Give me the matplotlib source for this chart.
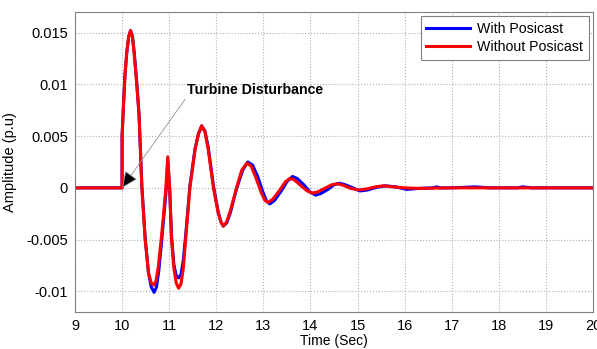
import matplotlib
matplotlib.use("Agg")
import matplotlib.pyplot as plt

plt.rcParams['font.family'] = ['Liberation Sans', 'DejaVu Sans']

# Without Posicast (red), values in p.u
t_without = [9, 10.0, 10.0, 10.03, 10.06, 10.10, 10.14, 10.18, 10.22, 10.26, 10.31, 10.36,
             10.42, 10.49, 10.56, 10.62, 10.67, 10.72, 10.77, 10.83, 10.88, 10.93, 10.97,
             11.01, 11.05, 11.10, 11.15, 11.20, 11.25, 11.30, 11.35, 11.44, 11.55, 11.62,
             11.69, 11.76, 11.83, 11.94, 12.04, 12.10, 12.15, 12.22, 12.30, 12.43, 12.54,
             12.65, 12.74, 12.84, 12.95, 13.03, 13.10, 13.20, 13.35, 13.47, 13.56, 13.65,
             13.80, 13.93, 14.04, 14.15, 14.30, 14.45, 14.57, 14.70, 14.85, 15.02, 15.20,
             15.38, 15.55, 15.75, 16.0, 16.3, 17.0, 20]
v_without = [0, 0, 5.0, 8.0, 10.8, 13.1, 14.6, 15.2, 14.6, 12.8, 10.1, 7.0,
             0, -5.0, -8.2, -9.2, -9.4, -9.0, -7.6, -5.0, -2.6, 0, 3.0,
             0, -5.0, -7.8, -9.2, -9.7, -9.3, -7.8, -5.0, 0, 3.7, 5.2,
             6.0, 5.4, 3.7, 0, -2.4, -3.3, -3.7, -3.3, -2.2, 0, 1.7,
             2.4, 2.1, 1.0, -0.4, -1.2, -1.4, -1.1, -0.2, 0.6, 0.9, 0.8,
             0.2, -0.3, -0.5, -0.4, -0.05, 0.3, 0.4, 0.25, -0.05, -0.2, -0.1,
             0.1, 0.2, 0.1, 0, -0.05, 0, 0]

# With Posicast (blue)
t_with = [9, 10.0, 10.0, 10.03, 10.06, 10.10, 10.14, 10.18, 10.22, 10.26, 10.31, 10.36,
          10.42, 10.49, 10.56, 10.62, 10.68, 10.73, 10.78, 10.84, 10.89, 10.94, 10.97,
          11.01, 11.05, 11.10, 11.15, 11.20, 11.25, 11.30, 11.35, 11.44, 11.55, 11.62,
          11.69, 11.76, 11.83, 11.94, 12.04, 12.10, 12.15, 12.22, 12.30,
          12.43, 12.56, 12.67, 12.77, 12.88, 12.99, 13.07, 13.14, 13.24, 13.38, 13.50,
          13.62, 13.72, 13.86, 13.99, 14.11, 14.22, 14.37, 14.50, 14.61, 14.74, 14.90,
          15.05, 15.22, 15.40, 15.60, 15.8, 16.05, 16.3, 16.6, 16.68, 16.76, 17.0,
          17.4, 17.5, 17.65, 17.8, 18.4, 18.5, 18.6, 18.7, 20]
v_with = [0, 0, 5.0, 8.0, 10.8, 13.1, 14.6, 15.2, 14.7, 13.0, 10.3, 7.2,
          0.2, -4.8, -8.2, -9.6, -10.1, -9.6, -8.0, -5.2, -2.6, 0, 2.6,
          0, -4.6, -7.4, -8.5, -8.7, -8.4, -7.0, -4.6, 0.2, 3.8, 5.2,
          6.0, 5.5, 3.9, 0.2, -2.3, -3.3, -3.7, -3.4, -2.4,
          -0.1, 1.7, 2.5, 2.2, 1.1, -0.4, -1.3, -1.55, -1.2, -0.3, 0.6,
          1.1, 0.9, 0.3, -0.4, -0.7, -0.55, -0.15, 0.3, 0.45, 0.3, 0,
          -0.3, -0.2, 0.05, 0.2, 0.1, -0.15, -0.05, 0, 0.1, 0, 0,
          0.08, 0.1, 0.05, 0, 0, 0.1, 0.05, 0, 0]

x_ticks = list(range(9, 21))
y_ticks = [-0.01, -0.005, 0, 0.005, 0.01, 0.015]
y_tick_labels = ['-0.01', '-0.005', '0', '0.005', '0.01', '0.015']

fig = plt.figure(figsize=(5.97, 3.49), dpi=100)
ax = fig.add_axes([0.1256, 0.106, 0.8677, 0.8596])

ax.plot(t_with, [v * 1e-3 for v in v_with], color='#0000ff', lw=2.2, label='With Posicast')
ax.plot(t_without, [v * 1e-3 for v in v_without], color='#ff0000', lw=2.2, label='Without Posicast')

ax.set_xlim(9, 20)
ax.set_ylim(-0.012, 0.017)
ax.set_xticks(x_ticks)
ax.set_yticks(y_ticks)
ax.set_yticklabels(y_tick_labels)
ax.tick_params(labelsize=10.5, length=0, pad=5)
ax.grid(True, color='#b0b0b0', ls=':', lw=0.8)
for s in ax.spines.values():
    s.set_color('#808080')
    s.set_linewidth(0.8)

ax.set_xlabel('Time (Sec)', fontsize=10, labelpad=1)
ax.set_ylabel('Amplitude (p.u)', fontsize=10.5, labelpad=7)

ax.annotate('Turbine Disturbance', xy=(10.0, 0.0), xytext=(11.38, 0.0095),
            fontsize=10.2, fontweight='bold', ha='left', va='center',
            arrowprops=dict(arrowstyle='-|>,head_length=1.0,head_width=0.45',
                            fc='black', ec='#909090', lw=0.6, shrinkA=0, shrinkB=0,
                            relpos=(0.0, 0.0)))

leg = ax.legend(loc='upper right', fontsize=10.2, fancybox=False, framealpha=1,
                borderaxespad=0.3, handlelength=3.1, handletextpad=0.5,
                borderpad=0.4, labelspacing=0.3)
leg.get_frame().set_edgecolor('#808080')
leg.get_frame().set_linewidth(0.8)

fig.savefig('out.png', dpi=100)
